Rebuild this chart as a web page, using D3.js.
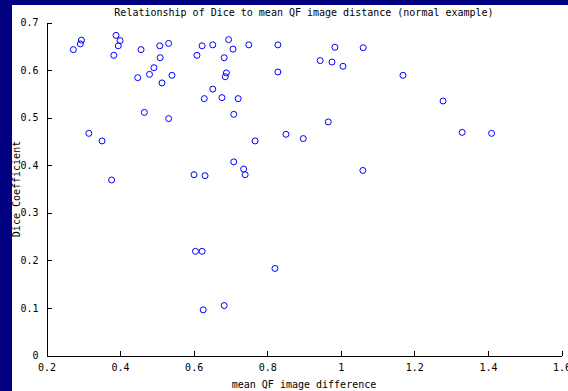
<html lang="en">
  <head>
    <meta charset="UTF-8" />
    <title>Relationship of Dice to mean QF image distance</title>
    <script src="https://d3js.org/d3.v7.min.js"></script>
  </head>
  <style>
    body {
      margin: 0;
      background: #000080;
    }

    svg {
      display: block;
    }

    text {
      font-family: "DejaVu Sans Mono", monospace;
      font-size: 10px;
      fill: black;
    }

    circle.pt {
      fill: none;
      stroke: #0000ff;
      stroke-width: 1px;
    }

    .axis path,
    .axis line {
      stroke: black;
      shape-rendering: crispEdges;
    }
  </style>
  <body>
    <div id="viz">
      <svg width="568" height="391"></svg>
    </div>
    <script>
      // mean QF image difference (x) and Dice coefficient (y)
      var meanQF = [
        0.273, 0.292, 0.295, 0.389, 0.400, 0.395, 0.383, 0.457, 0.508, 0.532,
        0.509, 0.492, 0.480, 0.448, 0.541, 0.514, 0.466, 0.532, 0.315, 0.351,
        0.609, 0.623, 0.652, 0.695, 0.707, 0.683, 0.689, 0.686, 0.652, 0.629,
        0.677, 0.721, 0.709, 0.709, 0.750, 0.829, 0.829, 0.767, 0.851, 0.898,
        0.966, 0.984, 1.061, 0.944, 0.976, 1.006, 1.169, 1.278, 1.330, 1.410,
        0.377, 0.601, 0.631, 0.605, 0.623, 0.626, 0.683, 0.736, 0.740, 1.060,
        0.821
      ];
      var dice = [
        0.643, 0.655, 0.663, 0.673, 0.662, 0.651, 0.631, 0.643, 0.651, 0.656,
        0.626, 0.605, 0.591, 0.584, 0.589, 0.573, 0.511, 0.498, 0.467, 0.451,
        0.631, 0.651, 0.653, 0.664, 0.644, 0.626, 0.594, 0.586, 0.560, 0.540,
        0.542, 0.540, 0.507, 0.407, 0.653, 0.653, 0.596, 0.451, 0.465, 0.456,
        0.491, 0.648, 0.647, 0.620, 0.617, 0.608, 0.589, 0.535, 0.469, 0.467,
        0.369, 0.380, 0.378, 0.219, 0.219, 0.096, 0.105, 0.392, 0.380, 0.389,
        0.183
      ];
      var xTicks = [0.2, 0.4, 0.6, 0.8, 1, 1.2, 1.4, 1.6];
      var yTicks = [0, 0.1, 0.2, 0.3, 0.4, 0.5, 0.6, 0.7];

      var svg = d3.select("svg");

      // white figure area (navy strip left and top)
      svg
        .append("rect")
        .attr("x", 12)
        .attr("y", 5)
        .attr("width", 556)
        .attr("height", 386)
        .style("fill", "white");

      var x = d3.scaleLinear().domain([0.2, 1.6]).range([46.5, 561.5]);
      var y = d3.scaleLinear().domain([0, 0.7]).range([355.5, 22.5]);

      function fontFix(g) {
        g.selectAll("text")
          .style("font-family", '"DejaVu Sans Mono", monospace')
          .style("font-size", "10px");
      }

      svg
        .append("g")
        .attr("class", "axis")
        .attr("transform", "translate(0," + y(0) + ")")
        .call(
          d3
            .axisBottom(x)
            .tickValues(xTicks)
            .tickSizeInner(-5)
            .tickSizeOuter(0)
            .tickPadding(8)
            .tickFormat(d3.format(""))
        )
        .call(fontFix);

      svg
        .append("g")
        .attr("class", "axis")
        .attr("transform", "translate(" + x(0.2) + ",0)")
        .call(
          d3
            .axisLeft(y)
            .tickValues(yTicks)
            .tickSizeInner(-5)
            .tickSizeOuter(0)
            .tickPadding(8)
            .tickFormat(d3.format(""))
        )
        .call(fontFix);

      var points = meanQF.map(function (v, i) {
        return { x: v, y: dice[i] };
      });

      svg
        .append("g")
        .selectAll("circle")
        .data(points)
        .enter()
        .append("circle")
        .attr("class", "pt")
        .attr("cx", function (d) {
          return x(d.x);
        })
        .attr("cy", function (d) {
          return y(d.y);
        })
        .attr("r", 3);

      svg
        .append("text")
        .attr("x", (x(0.2) + x(1.6)) / 2)
        .attr("y", 16)
        .style("text-anchor", "middle")
        .text("Relationship of Dice to mean QF image distance (normal example)");

      svg
        .append("text")
        .attr("x", (x(0.2) + x(1.6)) / 2)
        .attr("y", 388)
        .style("text-anchor", "middle")
        .text("mean QF image difference");

      svg
        .append("text")
        .attr("transform", "translate(20," + (y(0) + y(0.7)) / 2 + ") rotate(-90)")
        .style("text-anchor", "middle")
        .text("Dice Coefficient");
    </script>
  </body>
</html>
